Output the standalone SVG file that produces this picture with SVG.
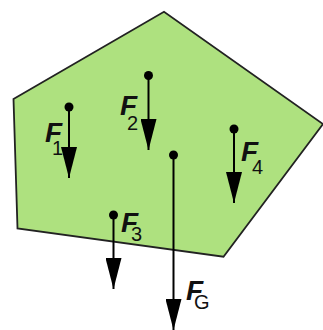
<svg xmlns="http://www.w3.org/2000/svg" width="323" height="330" viewBox="0 0 323 330">
<style>
.body{fill:#aee17f;stroke:#222;stroke-width:1.8;stroke-linejoin:miter}
.dot{fill:#000}
.arrow{stroke:#000;stroke-width:2;fill:none}
.lbl{font-family:"Liberation Sans",Arial,sans-serif;fill:#111}
.F{font-size:28px;font-weight:bold;font-style:italic}
.sub{font-size:20px}
</style>
<defs>
<marker id="head" markerUnits="userSpaceOnUse" viewBox="0 -8 31 16" markerWidth="31" markerHeight="16" refX="31" refY="0" orient="auto">
<path d="M0,-8 L31,0 L0,8 Z" fill="#000"/>
</marker>
</defs>
<g id="body">
<polygon class="body" points="13.5,99 164,11.7 323,124 223.5,256.7 17.5,228.5"/>
</g>
<g id="connectors">
<line class="arrow" x1="69" y1="107" x2="69" y2="178" marker-end="url(#head)"/>
<line class="arrow" x1="148.5" y1="75.5" x2="148.5" y2="150" marker-end="url(#head)"/>
<line class="arrow" x1="113.5" y1="215" x2="113.5" y2="289" marker-end="url(#head)"/>
<line class="arrow" x1="234" y1="129" x2="234" y2="203" marker-end="url(#head)"/>
<line class="arrow" x1="173.5" y1="155" x2="173.5" y2="330" marker-end="url(#head)"/>
</g>
<g id="F1">
<circle class="dot" cx="69" cy="107" r="4.5"/>
<text class="lbl"><tspan class="F" x="45" y="142">F</tspan><tspan class="sub" x="52" y="155">1</tspan></text>
</g>
<g id="F2">
<circle class="dot" cx="148.5" cy="75.5" r="4.5"/>
<text class="lbl"><tspan class="F" x="120" y="115">F</tspan><tspan class="sub" x="127" y="130">2</tspan></text>
</g>
<g id="F3">
<circle class="dot" cx="113.5" cy="215" r="4.5"/>
<text class="lbl"><tspan class="F" x="121" y="232">F</tspan><tspan class="sub" x="131" y="241">3</tspan></text>
</g>
<g id="F4">
<circle class="dot" cx="234" cy="129" r="4.5"/>
<text class="lbl"><tspan class="F" x="241" y="161">F</tspan><tspan class="sub" x="252" y="174">4</tspan></text>
</g>
<g id="FG">
<circle class="dot" cx="173.5" cy="155" r="4.5"/>
<text class="lbl"><tspan class="F" x="186" y="300">F</tspan><tspan class="sub" x="194" y="309">G</tspan></text>
</g>
</svg>
